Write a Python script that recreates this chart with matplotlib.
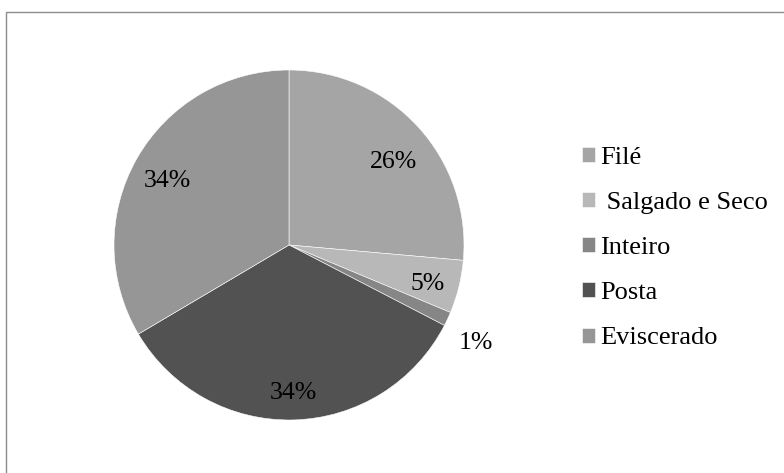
"""Pie chart: product type share (grey tones, Excel style)."""

import matplotlib.pyplot as plt
import numpy as np
from matplotlib.patches import Rectangle

plt.rcParams["font.family"] = ["Liberation Serif", "DejaVu Serif"]

categories = ["Filé", " Salgado e Seco", "Inteiro", "Posta", "Eviscerado"]
shares = [26.4, 4.9, 1.3, 33.9, 33.5]
colors = ["#a5a5a5", "#b8b8b8", "#868686", "#525252", "#969696"]
# percent label placement: radius fraction and angle nudge (deg)
label_dist = [0.77, 0.82, 1.2, 0.83, 0.79]
label_nudge = [-3, -1, -2, 0, 1]

W, H = 784, 473
fig = plt.figure(figsize=(W / 100, H / 100), dpi=100)

# outer chart frame (only top/left edges visible in the crop)
fig.patches.append(Rectangle((6 / W, -0.05), 1.1, (H - 12) / H + 0.05,
                             transform=fig.transFigure, fill=False,
                             edgecolor="#8c8c8c", linewidth=1.0))

cx, cy, r = 289, 245, 175
ax = fig.add_axes([(cx - r) / W, (H - cy - r) / H, 2 * r / W, 2 * r / H])
wedges, _ = ax.pie(shares, colors=colors, startangle=90, counterclock=False,
                   radius=1, wedgeprops=dict(edgecolor="white", linewidth=0.4))
ax.set_xlim(-1, 1)
ax.set_ylim(-1, 1)
ax.set_aspect("equal")
ax.axis("off")

total = sum(shares)
for w, v, d, n in zip(wedges, shares, label_dist, label_nudge):
    ang = np.deg2rad((w.theta1 + w.theta2) / 2 + n)
    ax.text(d * np.cos(ang), d * np.sin(ang), f"{v / total:.0%}",
            ha="center", va="center_baseline", fontsize=18.5, color="black",
            clip_on=False)

fig.legend(wedges, categories, loc="center left",
           bbox_to_anchor=(582 / W, (H - 248) / H), frameon=False,
           fontsize=19, handlelength=0.5, handleheight=0.5,
           handletextpad=0.2, labelspacing=0.88, borderpad=0,
           borderaxespad=0)

fig.savefig("out.png", dpi=100)
